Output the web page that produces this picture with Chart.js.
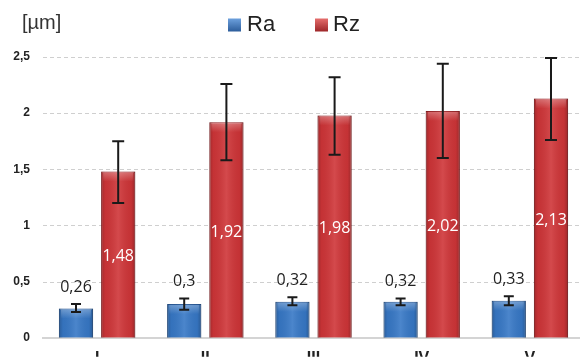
<!DOCTYPE html>
<html><head><meta charset="utf-8">
<script src="https://cdn.jsdelivr.net/npm/chart.js@4/dist/chart.umd.min.js"></script>
<style>html,body{margin:0;padding:0;background:#fff;overflow:hidden}#wrap{width:580px;height:358px;position:relative;overflow:hidden}</style>
</head><body><div id="wrap"><canvas id="c" width="584" height="358"></canvas></div>
<script>
const categories = ['I','II','III','IV','V'];
const raValues = [0.26, 0.30, 0.32, 0.32, 0.33];
const rzValues = [1.48, 1.92, 1.98, 2.02, 2.13];
const raErrLow  = [0.23, 0.25, 0.29, 0.29, 0.29];
const raErrHigh = [0.30, 0.35, 0.36, 0.35, 0.37];
const rzErrLow  = [1.20, 1.58, 1.63, 1.60, 1.76];
const rzErrHigh = [1.75, 2.26, 2.32, 2.44, 2.49];
const yTicks = [0, 0.5, 1, 1.5, 2, 2.5];
const unitLabel = '[µm]';

const fmt = v => String(v).replace('.', ',');

const barDecor = {
  id: 'barDecor',
  beforeDatasetsDraw(chart) {
    const ctx = chart.ctx, y = chart.scales.y, a = chart.chartArea;
    ctx.save();
    ctx.strokeStyle = '#cfcfcf';
    ctx.lineWidth = 1;
    ctx.setLineDash([4, 3]);
    y.ticks.forEach(t => {
      if (t.value === 0) return;
      const py = Math.round(y.getPixelForValue(t.value)) + 0.5;
      ctx.beginPath();
      ctx.moveTo(a.left, py); ctx.lineTo(a.right, py);
      ctx.stroke();
    });
    ctx.restore();
  },
  afterDatasetsDraw(chart) {
    const ctx = chart.ctx;
    const y = chart.scales.y;
    chart.data.datasets.forEach((ds, di) => {
      const meta = chart.getDatasetMeta(di);
      meta.data.forEach((el, i) => {
        const w = el.width, x0 = el.x - w/2, top = el.y, base = el.base;
        const g = ctx.createLinearGradient(x0, 0, x0 + w, 0);
        g.addColorStop(0, 'rgba(0,0,0,0.22)');
        g.addColorStop(0.12, 'rgba(0,0,0,0.05)');
        g.addColorStop(0.5, 'rgba(255,255,255,0.10)');
        g.addColorStop(0.88, 'rgba(0,0,0,0.05)');
        g.addColorStop(1, 'rgba(0,0,0,0.25)');
        ctx.save();
        ctx.fillStyle = g;
        ctx.fillRect(x0, top, w, base - top);
        const g2 = ctx.createLinearGradient(0, top, 0, top + 10);
        g2.addColorStop(0, 'rgba(255,255,255,0.30)');
        g2.addColorStop(1, 'rgba(255,255,255,0)');
        ctx.fillStyle = g2;
        ctx.fillRect(x0 + 2, top + 1, w - 4, 10);
        ctx.restore();
        const lo = ds.errLow[i], hi = ds.errHigh[i];
        const yl = y.getPixelForValue(lo), yh = y.getPixelForValue(hi);
        const cap = di === 0 ? 5 : 6;
        ctx.save();
        ctx.strokeStyle = '#1a1a1a';
        ctx.lineWidth = 2;
        ctx.beginPath();
        ctx.moveTo(el.x, yl); ctx.lineTo(el.x, yh);
        ctx.moveTo(el.x - cap, yh); ctx.lineTo(el.x + cap, yh);
        ctx.moveTo(el.x - cap, yl); ctx.lineTo(el.x + cap, yl);
        ctx.stroke();
        ctx.restore();
        ctx.save();
        ctx.font = '16px "Open Sans", sans-serif';
        ctx.textAlign = 'center';
        ctx.textBaseline = 'middle';
        const v = ds.data[i];
        if (di === 0) {
          ctx.fillStyle = '#222';
          ctx.fillText(fmt(v), el.x, yh - 17);
        } else {
          ctx.fillStyle = '#ffffff';
          ctx.fillText(fmt(v), el.x, (top + base) / 2 + 2);
        }
        ctx.restore();
      });
    });
  },
  afterDraw(chart) {
    const ctx = chart.ctx;
    ctx.save();
    ctx.fillStyle = '#333';
    ctx.font = '20px "Liberation Sans", Arial, sans-serif';
    ctx.textBaseline = 'middle';
    ctx.textAlign = 'left';
    ctx.fillText(unitLabel, 22, 23);
    ctx.font = '22px "Liberation Sans", Arial, sans-serif';
    const starts = [228, 315];
    const textOff = [19, 18];
    chart.data.datasets.forEach((ds, di) => {
      const x = starts[di], yc = 25;
      const g = ctx.createLinearGradient(0, yc - 7, 0, yc + 7);
      g.addColorStop(0, ds.lightColor);
      g.addColorStop(1, ds.borderColor);
      ctx.fillStyle = g;
      ctx.fillRect(x, yc - 6.5, 13, 13);
      ctx.fillStyle = '#222';
      ctx.fillText(ds.label, x + textOff[di], yc);
    });
    ctx.restore();
  }
};

new Chart(document.getElementById('c'), {
  type: 'bar',
  data: {
    labels: categories,
    datasets: [
      { label: 'Ra', data: raValues, errLow: raErrLow, errHigh: raErrHigh,
        backgroundColor: '#3778c6', borderColor: '#2a5a98', lightColor: '#6fa3e0', borderWidth: 1 },
      { label: 'Rz', data: rzValues, errLow: rzErrLow, errHigh: rzErrHigh,
        backgroundColor: '#cf3538', borderColor: '#9a2326', lightColor: '#e8706f', borderWidth: 1 }
    ]
  },
  options: {
    responsive: false,
    animation: false,
    devicePixelRatio: 1,
    layout: { padding: { top: 57, right: 0, left: 0, bottom: 0 } },
    plugins: { legend: { display: false }, tooltip: { enabled: false } },
    datasets: { bar: { categoryPercentage: 0.78, barPercentage: 0.81 } },
    scales: {
      x: {
        grid: { display: false, drawTicks: false },
        border: { display: true, color: '#d4d4d4', width: 2 },
        ticks: { color: '#222', font: { family: '"Liberation Sans", Arial', size: 16, weight: 'bold' }, padding: 11 },
        afterFit(s) { s.height = 19; }
      },
      y: {
        min: 0, max: 2.5,
        afterBuildTicks(s) { s.ticks = yTicks.map(v => ({ value: v })); },
        afterFit(s) { s.width = 43; },
        grid: { display: false, drawTicks: false },
        border: { display: false },
        ticks: { color: '#222', padding: 13, font: { family: '"Liberation Sans", Arial', size: 12, weight: 'bold' },
                 callback: v => fmt(v) }
      }
    }
  },
  plugins: [barDecor]
});
</script></body></html>
